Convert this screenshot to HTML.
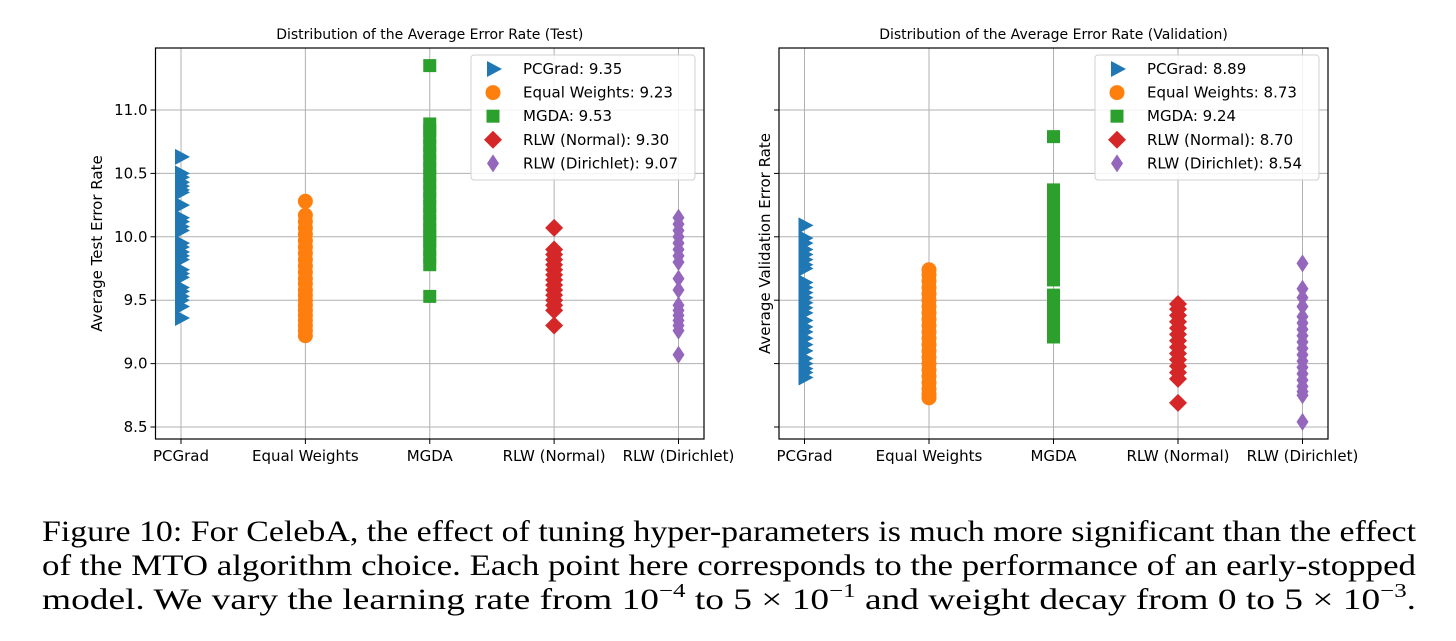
<!DOCTYPE html>
<html><head><meta charset="utf-8"><style>
body{margin:0;background:#fff;}
svg{display:block;}
text{font-family:"DejaVu Sans","Liberation Sans",sans-serif;}
.cap{font-family:"Liberation Serif",serif;font-size:30px;fill:#000;}
</style></head><body>
<svg id="fig" width="1456" height="641" viewBox="0 0 1456 641">
<g id="left"></g>
<g id="right"></g>
<text class="cap" x="42" y="541" textLength="1374" lengthAdjust="spacingAndGlyphs">Figure 10: For CelebA, the effect of tuning hyper-parameters is much more significant than the effect</text>
<text class="cap" x="42" y="575" textLength="1374" lengthAdjust="spacingAndGlyphs">of the MTO algorithm choice. Each point here corresponds to the performance of an early-stopped</text>
<text class="cap" x="42" y="609" textLength="1374" lengthAdjust="spacingAndGlyphs">model. We vary the learning rate from 10<tspan dy="-12" font-size="20">−4</tspan><tspan dy="12"> to 5 × 10</tspan><tspan dy="-12" font-size="20">−1</tspan><tspan dy="12"> and weight decay from 0 to 5 × 10</tspan><tspan dy="-12" font-size="20">−3</tspan><tspan dy="12">.</tspan></text>
</svg>
<script>
const categories=["PCGrad","Equal Weights","MGDA","RLW (Normal)","RLW (Dirichlet)"];
const yTicks=[8.5,9.0,9.5,10.0,10.5,11.0];
const yTickLabels=["8.5","9.0","9.5","10.0","10.5","11.0"];
const testPCGrad=[10.63,10.5,10.47,10.43,10.4,10.37,10.35,10.25,10.15,10.12,10.08,10.05,9.95,9.92,9.88,9.85,9.82,9.74,9.71,9.68,9.6,9.57,9.53,9.5,9.45,9.36];
const testEqual=[10.28,10.17,10.12,10.07,10.02,9.97,9.92,9.87,9.82,9.77,9.72,9.67,9.63,9.58,9.54,9.5,9.46,9.42,9.38,9.34,9.3,9.26,9.22];
const testMGDA=[11.35,10.89,10.84,10.78,10.72,10.66,10.6,10.54,10.48,10.42,10.36,10.3,10.24,10.18,10.12,10.06,10.01,9.96,9.9,9.84,9.78,9.53];
const testNormal=[10.07,9.9,9.86,9.82,9.78,9.74,9.7,9.66,9.62,9.58,9.54,9.5,9.46,9.42,9.3];
const testDirichlet=[10.15,10.1,10.05,10.0,9.95,9.9,9.85,9.8,9.67,9.58,9.46,9.42,9.38,9.34,9.3,9.26,9.07];
const valPCGrad=[10.09,9.99,9.95,9.9,9.86,9.82,9.78,9.75,9.64,9.6,9.56,9.52,9.48,9.44,9.4,9.34,9.29,9.25,9.2,9.15,9.1,9.04,9.0,8.96,8.93,8.89];
const valEqual=[9.74,9.7,9.65,9.6,9.55,9.5,9.45,9.4,9.35,9.3,9.25,9.2,9.15,9.1,9.05,9.0,8.95,8.9,8.85,8.8,8.76,8.73];
const valMGDA=[10.79,10.37,10.29,10.23,10.17,10.11,10.05,9.99,9.93,9.87,9.81,9.75,9.7,9.66,9.54,9.49,9.44,9.39,9.33,9.27,9.21];
const valNormal=[9.47,9.43,9.38,9.33,9.28,9.23,9.18,9.13,9.08,9.03,8.98,8.93,8.88,8.69];
const valDirichlet=[9.79,9.59,9.52,9.45,9.37,9.32,9.27,9.22,9.17,9.12,9.07,9.02,8.97,8.92,8.87,8.82,8.78,8.75,8.54];
const testLegend=["PCGrad: 9.35","Equal Weights: 9.23","MGDA: 9.53","RLW (Normal): 9.30","RLW (Dirichlet): 9.07"];
const valLegend=["PCGrad: 8.89","Equal Weights: 8.73","MGDA: 9.24","RLW (Normal): 8.70","RLW (Dirichlet): 8.54"];
const colors=["#1f77b4","#ff7f0e","#2ca02c","#d62728","#9467bd"];
const shapes=["tri","circle","square","diamond","thin"];
const NS="http://www.w3.org/2000/svg";
function mk(tag,attrs,parent){const e=document.createElementNS(NS,tag);for(const k in attrs)e.setAttribute(k,attrs[k]);parent.appendChild(e);return e;}
function marker(g,shape,cx,cy,color){
  let e;
  if(shape==="tri")e=mk("polygon",{points:`${cx-6},${cy-8} ${cx+9},${cy} ${cx-6},${cy+8}`,fill:color},g);
  else if(shape==="circle")e=mk("circle",{cx:cx,cy:cy,r:7.5,fill:color},g);
  else if(shape==="square")e=mk("rect",{x:cx-6.5,y:cy-6.5,width:13,height:13,fill:color},g);
  else if(shape==="diamond")e=mk("polygon",{points:`${cx},${cy-9} ${cx+9},${cy} ${cx},${cy+9} ${cx-9},${cy}`,fill:color},g);
  else e=mk("polygon",{points:`${cx},${cy-9} ${cx+6},${cy} ${cx},${cy+9} ${cx-6},${cy}`,fill:color},g);
  return e;
}
function chart(g,opt){
  const L=opt.left,R=opt.right,T=48,B=439;
  const y=v=>110+(11.0-v)*126.8;
  const step=(R-L-51)/4;
  const x=i=>L+25.5+i*step;
  let t=mk("text",{x:(L+R)/2,y:39,"text-anchor":"middle","font-size":"14",fill:"#000"},g);t.textContent=opt.title;
  
  
  yTicks.forEach((v,i)=>{
    let l=mk("line",{x1:L,x2:R,y1:y(v),y2:y(v),stroke:"#b0b0b0","stroke-width":1},g);
    
    
    mk("line",{x1:L-5,x2:L,y1:y(v),y2:y(v),stroke:"#000","stroke-width":1},g);
    if(opt.labels){let tt=mk("text",{x:L-8,y:y(v)+5,"text-anchor":"end","font-size":"15",fill:"#000"},g);tt.textContent=yTickLabels[i];
      
      }
  });
  categories.forEach((c,i)=>{
    let l=mk("line",{x1:x(i),x2:x(i),y1:T,y2:B,stroke:"#b0b0b0","stroke-width":1},g);
    
    
    mk("line",{x1:x(i),x2:x(i),y1:B,y2:B+5,stroke:"#000","stroke-width":1},g);
    let tt=mk("text",{x:x(i),y:B+22,"text-anchor":"middle","font-size":"15",fill:"#000"},g);tt.textContent=c;
    
    
  });
  opt.series.forEach((s,i)=>{
    const sg=mk("g",{},g);
    
    
    s.forEach(v=>{const m=marker(sg,shapes[i],x(i),y(v),colors[i]);
      
      });
  });
  let fr=mk("rect",{x:L,y:T,width:R-L,height:B-T,fill:"none",stroke:"#000","stroke-width":1.2},g);
  
  
  let yl=mk("text",{x:0,y:0,"text-anchor":"middle","font-size":"15",fill:"#000",transform:`translate(${opt.ylx},${(T+B)/2}) rotate(-90)`},g);yl.textContent=opt.ylabel;
  
  
  const lg=mk("g",{},g);
  
  
  const lx=R-233,ly=55;
  mk("rect",{x:lx,y:ly,width:224,height:125,rx:3,fill:"#fff","fill-opacity":0.85,stroke:"#d0d0d0"},lg);
  opt.legend.forEach((s,i)=>{
    const cy=ly+14+i*23.6;
    marker(lg,shapes[i],lx+22,cy,colors[i]);
    let tt=mk("text",{x:lx+52,y:cy+5,"font-size":"15",fill:"#000"},lg);tt.textContent=s;
    
    
  });
}
chart(document.getElementById("left"),{left:155.5,right:704,title:"Distribution of the Average Error Rate (Test)",labels:true,ylabel:"Average Test Error Rate",ylx:102,series:[testPCGrad,testEqual,testMGDA,testNormal,testDirichlet],legend:testLegend});
chart(document.getElementById("right"),{left:779,right:1328,title:"Distribution of the Average Error Rate (Validation)",labels:false,ylabel:"Average Validation Error Rate",ylx:770,series:[valPCGrad,valEqual,valMGDA,valNormal,valDirichlet],legend:valLegend});
</script>
</body></html>
